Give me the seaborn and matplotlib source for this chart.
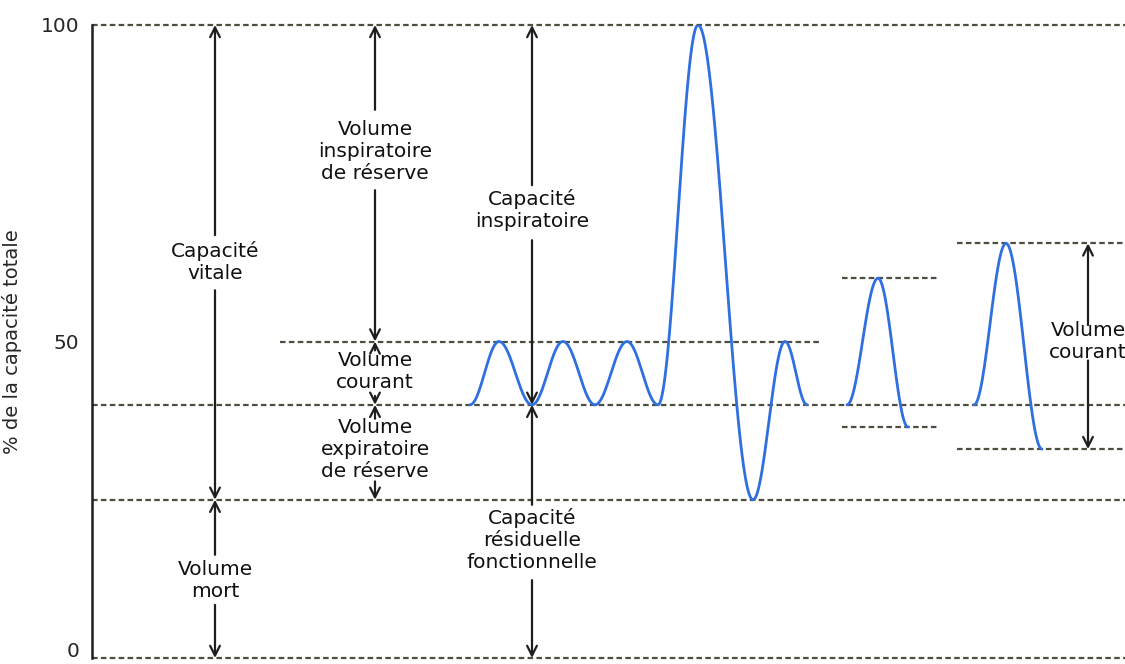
import numpy as np
import pandas as pd
import seaborn as sns
import matplotlib.pyplot as plt
from matplotlib.transforms import ScaledTranslation

# Breathing trace: turning points (time in arbitrary units, % of total capacity)
breath_t = [470, 499, 532, 563, 595, 627, 658, 698, 753, 785, 807]
breath_v = [40, 50, 40, 50, 40, 50, 40, 100, 25, 50, 40]
small1_t = [847, 878, 908]
small1_v = [40, 60, 36.5]
small2_t = [974, 1006, 1042]
small2_v = [40, 65.5, 33]

# Dotted reference levels and their horizontal extent
ref_levels = [100, 50, 40, 25, 0, 60, 36.5, 65.5, 33]
ref_start = [92, 280, 92, 92, 92, 842, 842, 957, 957]
ref_end = [1125, 822, 1125, 1125, 1125, 937, 937, 1125, 1125]

# Vertical measurement arrows: x, label, label centre, span top, span bottom, gap around label
labels = ['Capacité\nvitale', 'Volume\nmort',
          'Volume\ninspiratoire\nde réserve', 'Volume\ncourant',
          'Volume\nexpiratoire\nde réserve',
          'Capacité\ninspiratoire', 'Capacité\nrésiduelle\nfonctionnelle',
          'Volume\ncourant']
label_x = [215, 215, 375, 375, 375, 532, 532, 1088]
label_y = [62.6, 12.3, 80.0, 45.2, 32.9, 70.8, 18.6, 50.0]
span_top = [100, 25, 100, 50, 40, 100, 40, 65.5]
span_bot = [25, 0, 50, 40, 25, 40, 0, 33]
gap_top = [66.8, 16.3, 86.6, 48.6, 37.8, 74.7, 24.2, 52.6]
gap_bot = [58.1, 8.4, 73.9, 41.4, 27.9, 66.0, 12.3, 47.0]

tick_vals = np.arange(0, 101, 10)
tick_text = ['0', '', '', '', '', '50', '', '', '', '', '100']


def smooth(ts, vs, n=60):
    # half-cosine joins between successive turning points
    xs, ys = [], []
    for i in range(len(ts) - 1):
        f = np.linspace(0, 1, n)
        w = (1 - np.cos(np.pi * f)) / 2
        xs.extend(ts[i] + (ts[i + 1] - ts[i]) * f)
        ys.extend(vs[i] + (vs[i + 1] - vs[i]) * w)
    return xs, ys


sns.set_style('white')
plt.rcParams['font.family'] = ['DejaVu Sans']

fig = plt.figure(figsize=(11.25, 6.64), dpi=100)
ax = fig.add_axes([92 / 1125, 6 / 664, 1033 / 1125, 633 / 664])

dot_color = '#4d4d40'
for y, x0, x1 in zip(ref_levels, ref_start, ref_end):
    ax.plot([x0, x1], [y, y], color=dot_color, lw=1.6,
            linestyle=(0, (2.5, 1.5)), clip_on=False, zorder=1)

for name, (ts, vs) in {'a': (breath_t, breath_v), 'b': (small1_t, small1_v),
                       'c': (small2_t, small2_v)}.items():
    xs, ys = smooth(ts, vs)
    df = pd.DataFrame({'t': xs, 'v': ys})
    sns.lineplot(data=df, x='t', y='v', sort=False, color='#2f6fe0',
                 lw=2, ax=ax, zorder=3)

arrow_kw = dict(arrowstyle='->,head_length=0.7,head_width=0.35',
                color='#1e1e1e', lw=1.6, shrinkA=0, shrinkB=0)
for txt, x, y, top, bot, gt, gb in zip(labels, label_x, label_y,
                                        span_top, span_bot, gap_top, gap_bot):
    ax.annotate('', xy=(x, top), xytext=(x, gt), arrowprops=arrow_kw,
                annotation_clip=False, zorder=2)
    ax.annotate('', xy=(x, bot), xytext=(x, gb), arrowprops=arrow_kw,
                annotation_clip=False, zorder=2)
    ax.text(x, y, txt, ha='center', va='center', fontsize=14.5,
            linespacing=1.2, color='#111111', zorder=4)

ax.set_xlim(92, 1125)
ax.set_ylim(0, 100)
ax.set_xticks([])
ax.set_yticks(tick_vals)
ax.set_yticklabels(tick_text, fontsize=14.5)
ax.tick_params(axis='y', direction='in', length=10, width=1.5,
               color='#1e1e1e', pad=9)
# lift the "0" a little so it stays inside the figure
ax.get_yticklabels()[0].set_transform(
    ax.get_yticklabels()[0].get_transform()
    + ScaledTranslation(0, 6 / 72, fig.dpi_scale_trans))
for s in ['top', 'right', 'bottom']:
    ax.spines[s].set_visible(False)
ax.spines['left'].set_color('#1e1e1e')
ax.spines['left'].set_linewidth(1.8)
ax.set_xlabel('')
ax.set_ylabel('% de la capacité totale', fontsize=14)
ax.yaxis.set_label_coords(-0.068, 0.5)

fig.savefig('out.png', dpi=100)
